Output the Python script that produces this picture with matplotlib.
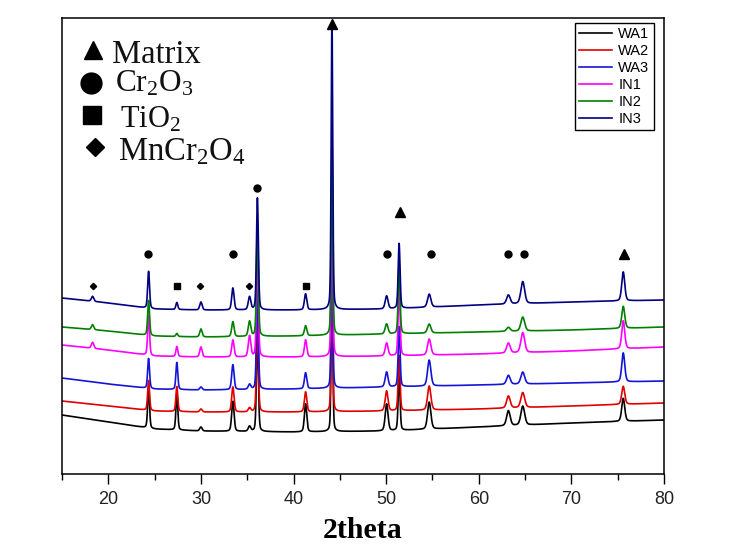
import numpy as np
import matplotlib.pyplot as plt
from matplotlib.ticker import MultipleLocator

plt.rcParams['mathtext.fontset'] = 'custom'
plt.rcParams['mathtext.rm'] = 'Liberation Serif'
plt.rcParams['mathtext.it'] = 'Liberation Serif:italic'
plt.rcParams['mathtext.bf'] = 'Liberation Serif:bold'

# samples, legend order
samples = ['WA1', 'WA2', 'WA3', 'IN1', 'IN2', 'IN3']
colors = ['#000000', '#e00000', '#1414d8', '#ff00ff', '#008000', '#000080']

# background (a.u.) read at a few 2theta points
bg_2theta = [15, 20, 25, 30, 40, 50, 60, 70, 80]
bg_WA1 = [59, 52, 45, 43, 42, 43, 47, 51, 54]
bg_WA2 = [73, 68, 63, 62, 62, 63, 65, 68, 71]
bg_WA3 = [96, 90, 85, 84, 85, 87, 89, 91, 93]
bg_IN1 = [129, 124, 118, 117, 117, 118, 120, 123, 127]
bg_IN2 = [147, 143, 138, 137, 138, 140, 142, 144, 147]
bg_IN3 = [176, 171, 165, 164, 164, 165, 169, 172, 174]

# peaks: position, width, height above background for each sample
peak_pos = [18.3, 24.35, 27.4, 30.0, 33.45, 35.25, 36.1, 41.3, 44.15,
            50.05, 51.4, 54.65, 63.2, 64.75, 75.6]
peak_fwhm = [0.3, 0.24, 0.24, 0.3, 0.3, 0.32, 0.24, 0.3, 0.2,
             0.36, 0.24, 0.42, 0.45, 0.48, 0.38]
h_WA1 = [0, 40, 35, 4, 30, 5, 100, 28, 160, 27, 55, 27, 15, 19, 23]
h_WA2 = [0, 30, 25, 3, 25, 4, 95, 20, 150, 20, 55, 24, 12, 15, 18]
h_WA3 = [0, 30, 27, 3, 25, 5, 100, 16, 160, 15, 60, 26, 9, 12, 29]
h_IN1 = [6, 40, 10, 10, 17, 21, 107, 17, 187, 13, 70, 16, 10, 20, 28]
h_IN2 = [5, 35, 3, 8, 15, 15, 110, 10, 200, 10, 70, 9, 4, 14, 22]
h_IN3 = [5, 37, 7, 8, 22, 13, 112, 16, 290, 13, 65, 13, 9, 22, 29]

backgrounds = [bg_WA1, bg_WA2, bg_WA3, bg_IN1, bg_IN2, bg_IN3]
heights = [h_WA1, h_WA2, h_WA3, h_IN1, h_IN2, h_IN3]

# phase marks
matrix_x = [44.2, 51.46, 75.63]
matrix_y = [450, 262, 220]
cr2o3_x = [24.28, 33.45, 36.03, 50.06, 54.8, 63.2, 64.84]
cr2o3_y = [220, 220, 286, 220, 220, 220, 220]
tio2_x = [27.4, 41.32]
tio2_y = [188, 188]
mncr_x = [18.34, 29.9, 35.17]
mncr_y = [188, 188, 188]

tt = np.arange(15.0, 80.0001, 0.02)


def pattern(bg, hs):
    y = np.interp(tt, bg_2theta, bg).astype(float)
    for p, w, h in zip(peak_pos, peak_fwhm, hs):
        lor = 1.0 / (1.0 + ((tt - p) / (w / 2)) ** 2)
        gau = np.exp(-4 * np.log(2) * ((tt - p) / w) ** 2)
        y += h * (0.3 * lor + 0.7 * gau)
    return y


fig = plt.figure(figsize=(7.47, 5.51), dpi=100)
ax = fig.add_axes([62 / 747, 77 / 551, 602 / 747, 456 / 551])

for name, c, bg, hs in zip(samples, colors, backgrounds, heights):
    ax.plot(tt, pattern(bg, hs), color=c, lw=1.2, label=name)

ax.plot(matrix_x, matrix_y, '^', color='k', ms=7, ls='none', clip_on=False)
ax.plot(cr2o3_x, cr2o3_y, 'o', color='k', ms=5, ls='none')
ax.plot(tio2_x, tio2_y, 's', color='k', ms=5, ls='none')
ax.plot(mncr_x, mncr_y, 'D', color='k', ms=3.2, ls='none')

# phase key, upper left
ax.plot([18.34], [424], '^', color='k', ms=13)
ax.plot([18.13], [391], 'o', color='k', ms=15)
ax.plot([18.24], [359], 's', color='k', ms=13.5)
ax.plot([18.56], [327], 'D', color='k', ms=8.7)
txt = dict(family='Liberation Serif', va='baseline', ha='left', color='#111')
ax.text(20.39, 411, 'Matrix', fontsize=23.5, **txt)
ax.text(20.72, 382, r'Cr$_\mathrm{2}$O$_\mathrm{3}$', fontsize=22.5, **txt)
ax.text(21.26, 346, r'TiO$_\mathrm{2}$', fontsize=22, **txt)
ax.text(21.04, 314, r'MnCr$_\mathrm{2}$O$_\mathrm{4}$', fontsize=23.5, **txt)

ax.set_xlim(15, 80)
ax.set_ylim(0, 456)
ax.xaxis.set_major_locator(MultipleLocator(10))
ax.xaxis.set_minor_locator(MultipleLocator(5))
ax.tick_params(axis='x', which='major', direction='out', length=7.5, width=1,
               pad=5, labelsize=13, labelcolor='#222')
ax.tick_params(axis='x', which='minor', direction='out', length=4, width=1)
for t in ax.get_xticklabels():
    t.set_family('Liberation Sans')
ax.set_yticks([])
for s in ax.spines.values():
    s.set_linewidth(1.1)

ax.set_xlabel('2theta', family='Liberation Serif', fontweight='bold',
              fontsize=21.5)
ax.xaxis.label.set_va('baseline')
ax.xaxis.set_label_coords(0.5, -64 / 456)

leg = ax.legend(loc='upper right', bbox_to_anchor=(0.983, 0.989),
                borderaxespad=0, fancybox=False, framealpha=1,
                edgecolor='k', prop={'family': 'Liberation Sans', 'size': 10.5},
                handlelength=2.26, handletextpad=0.4, labelspacing=0.2,
                borderpad=0.3)
leg.get_frame().set_linewidth(1.0)

fig.savefig('out.png', dpi=100)
